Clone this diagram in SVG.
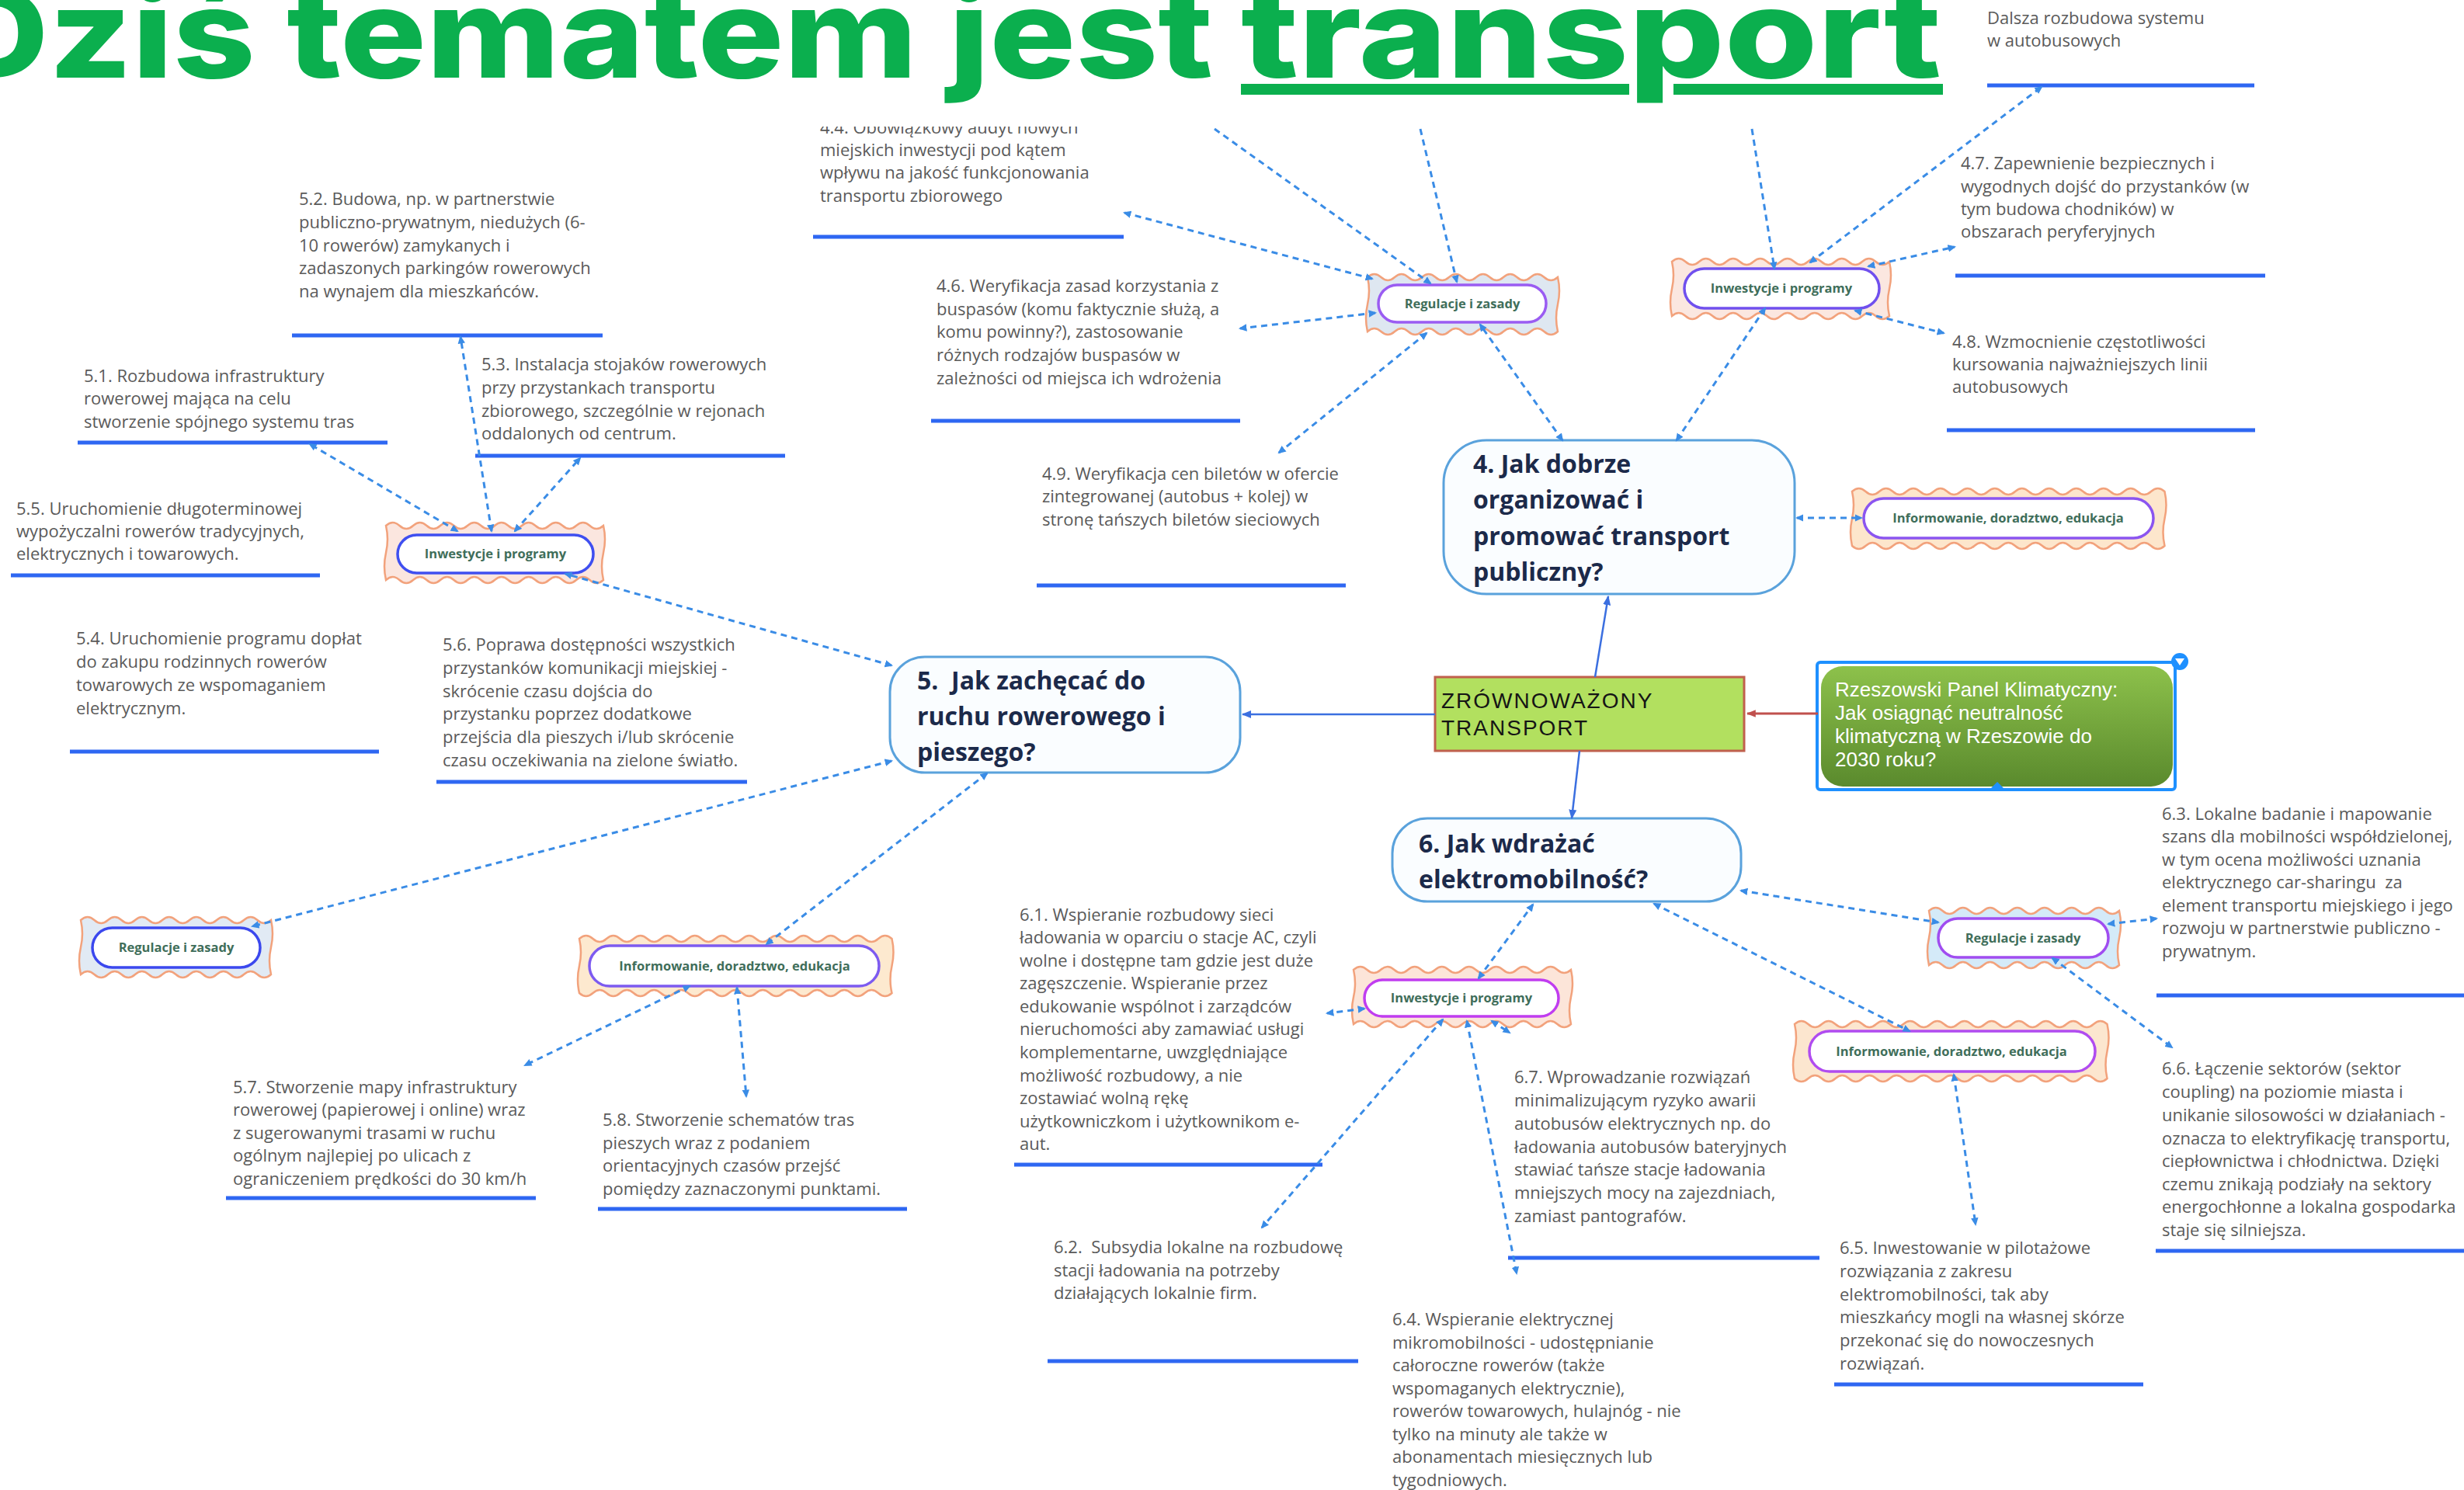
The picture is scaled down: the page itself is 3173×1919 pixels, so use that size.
<svg xmlns="http://www.w3.org/2000/svg" xmlns:xlink="http://www.w3.org/1999/xlink" width="3173" height="1919" viewBox="0 0 3173 1919">
<style>
.t{font-family:"Open Sans","Noto Sans",sans-serif;font-size:22px;fill:#5a5a5a}
.ul{stroke:#2E67F2;stroke-width:5}
.h{font-family:"Open Sans","Noto Sans",sans-serif;font-weight:700;font-size:32px;fill:#1C2A4A;white-space:pre}
.hb{fill:#FAFDFF;stroke:#5AA2DC;stroke-width:3}
.lbl{font-family:"Open Sans","Noto Sans",sans-serif;font-weight:700;font-size:16.5px;fill:#3F6E5A;text-anchor:middle}
.pill{fill:#fff;stroke-width:3.5}
.wav{stroke:#F2A27C;stroke-width:2.5}
.dl{stroke:#3A8CE6;stroke-width:3;stroke-dasharray:8 6;fill:none;marker-start:url(#ah);marker-end:url(#ah)}
.dle{stroke:#3A8CE6;stroke-width:3;stroke-dasharray:8 6;fill:none;marker-end:url(#ah)}
.ml{stroke:#3B6FE0;stroke-width:2.5;fill:none;marker-end:url(#as)}
.title{font-family:Inter,"Liberation Sans",sans-serif;font-weight:800;font-size:160px;fill:#0BAF4E}
</style>
<defs>
<marker id="ah" viewBox="0 0 10 10" refX="8" refY="5" markerWidth="3.5" markerHeight="3.5" orient="auto-start-reverse"><path d="M0,0.5 L10,5 L0,9.5 z" fill="#3A8CE6"/></marker>
<marker id="as" viewBox="0 0 10 10" refX="9" refY="5" markerWidth="5" markerHeight="5" orient="auto-start-reverse"><path d="M0,1 L10,5 L0,9 z" fill="#3B6FE0"/></marker>
<marker id="ar" viewBox="0 0 10 10" refX="9" refY="5" markerWidth="4" markerHeight="4" orient="auto-start-reverse"><path d="M0,1 L10,5 L0,9 z" fill="#C0504D"/></marker>
<linearGradient id="gg" x1="0" y1="0" x2="0" y2="1"><stop offset="0" stop-color="#8DC14B"/><stop offset="1" stop-color="#5A8A2D"/></linearGradient>
<path id="wReg" d="M0,5 q8.75,-8 17.5,0 t17.5,0 t17.5,0 t17.5,0 t17.5,0 t17.5,0 t17.5,0 t17.5,0 t17.5,0 t17.5,0 t17.5,0 t17.5,0 t17.5,0 t17.5,0 q4,17.5 0,35 t0,35 q-8.75,8 -17.5,0 t-17.5,0 t-17.5,0 t-17.5,0 t-17.5,0 t-17.5,0 t-17.5,0 t-17.5,0 t-17.5,0 t-17.5,0 t-17.5,0 t-17.5,0 t-17.5,0 t-17.5,0 q-4,-17.5 0,-35 t0,-35 z"/>
<path id="wInw" d="M0,5 q8.75,-8 17.5,0 t17.5,0 t17.5,0 t17.5,0 t17.5,0 t17.5,0 t17.5,0 t17.5,0 t17.5,0 t17.5,0 t17.5,0 t17.5,0 t17.5,0 t17.5,0 t17.5,0 t17.5,0 q4,17.5 0,35 t0,35 q-8.75,8 -17.5,0 t-17.5,0 t-17.5,0 t-17.5,0 t-17.5,0 t-17.5,0 t-17.5,0 t-17.5,0 t-17.5,0 t-17.5,0 t-17.5,0 t-17.5,0 t-17.5,0 t-17.5,0 t-17.5,0 t-17.5,0 q-4,-17.5 0,-35 t0,-35 z"/>
<path id="wInf" d="M0,5 q8.75,-8 17.5,0 t17.5,0 t17.5,0 t17.5,0 t17.5,0 t17.5,0 t17.5,0 t17.5,0 t17.5,0 t17.5,0 t17.5,0 t17.5,0 t17.5,0 t17.5,0 t17.5,0 t17.5,0 t17.5,0 t17.5,0 t17.5,0 t17.5,0 t17.5,0 t17.5,0 t17.5,0 q4,17.5 0,35 t0,35 q-8.75,8 -17.5,0 t-17.5,0 t-17.5,0 t-17.5,0 t-17.5,0 t-17.5,0 t-17.5,0 t-17.5,0 t-17.5,0 t-17.5,0 t-17.5,0 t-17.5,0 t-17.5,0 t-17.5,0 t-17.5,0 t-17.5,0 t-17.5,0 t-17.5,0 t-17.5,0 t-17.5,0 t-17.5,0 t-17.5,0 t-17.5,0 q-4,-17.5 0,-35 t0,-35 z"/>
</defs>
<rect x="0" y="0" width="3173" height="1919" fill="#fff"/>

<!-- main topic nodes -->
<g id="central">
<rect x="1848" y="872" width="398" height="95" fill="#B2E05F" stroke="#C0604D" stroke-width="3"/>
<text x="1856" y="912" font-family="'Liberation Sans',Arial,sans-serif" font-size="28" letter-spacing="2" fill="#151515">ZRÓWNOWAŻONY</text>
<text x="1856" y="947" font-family="'Liberation Sans',Arial,sans-serif" font-size="28" letter-spacing="2" fill="#151515">TRANSPORT</text>
</g>
<g id="root">
<rect x="2345" y="858" width="453" height="155" rx="28" fill="url(#gg)"/>
<rect x="2340" y="853" width="461" height="164" rx="4" fill="none" stroke="#1E90FF" stroke-width="4"/>
<text font-family="'Liberation Sans',Arial,sans-serif" font-size="26" fill="#fff"><tspan x="2363" y="897">Rzeszowski Panel Klimatyczny:</tspan><tspan x="2363" y="927">Jak osiągnąć neutralność</tspan><tspan x="2363" y="957">klimatyczną w Rzeszowie do</tspan><tspan x="2363" y="987">2030 roku?</tspan></text>
<circle cx="2807" cy="852" r="11" fill="#1E90FF"/>
<path d="M2801,848 L2813,848 L2807,857 z" fill="#fff"/>
<path d="M2564,1015 L2572,1007 L2580,1015 z" fill="#1E90FF"/>
</g>
<g id="q4">
<rect class="hb" x="1859" y="567" width="452" height="198" rx="55"/>
<text class="h"><tspan x="1897" y="609">4. Jak dobrze</tspan><tspan x="1897" y="655">organizować i</tspan><tspan x="1897" y="702">promować transport</tspan><tspan x="1897" y="748">publiczny?</tspan></text>
</g>
<g id="q5">
<rect class="hb" x="1146" y="846" width="451" height="149" rx="45"/>
<text class="h"><tspan x="1181" y="888">5.  Jak zachęcać do</tspan><tspan x="1181" y="934">ruchu rowerowego i</tspan><tspan x="1181" y="980">pieszego?</tspan></text>
</g>
<g id="q6">
<rect class="hb" x="1793" y="1054" width="449" height="107" rx="45"/>
<text class="h"><tspan x="1827" y="1098">6. Jak wdrażać</tspan><tspan x="1827" y="1144">elektromobilność?</tspan></text>
</g>

<!-- category nodes -->
<g id="reg4"><use href="#wReg" x="1761" y="352" class="wav" fill="#DEE7F1"/><rect class="pill" x="1775" y="367" width="216" height="48" rx="24" stroke="#9A5CF2"/><text class="lbl" x="1883" y="397">Regulacje i zasady</text></g>
<g id="inw4"><use href="#wInw" x="2153" y="332" class="wav" fill="#FBE7E0"/><rect class="pill" x="2169" y="346" width="251" height="51" rx="25.5" stroke="#7050EE"/><text class="lbl" x="2294" y="377">Inwestycje i programy</text></g>
<g id="inf4"><use href="#wInf" x="2385" y="628" class="wav" fill="#FDE6CC"/><rect class="pill" x="2400" y="642" width="373" height="51" rx="25.5" stroke="#8B55F0"/><text class="lbl" x="2586" y="673">Informowanie, doradztwo, edukacja</text></g>
<g id="inw5"><use href="#wInw" x="497" y="672" class="wav" fill="#FBE6DF"/><rect class="pill" x="512" y="689" width="252" height="49" rx="24.5" stroke="#3F4FF0"/><text class="lbl" x="638" y="719">Inwestycje i programy</text></g>
<g id="reg5"><use href="#wReg" x="104" y="1180" class="wav" fill="#E1EAF4"/><rect class="pill" x="119" y="1195" width="216" height="51" rx="25.5" stroke="#3B48EE"/><text class="lbl" x="227" y="1226">Regulacje i zasady</text></g>
<g id="inf5"><use href="#wInf" x="746" y="1204" class="wav" fill="#FDE9CF"/><rect class="pill" x="759" y="1218" width="373" height="52" rx="26" stroke="#7D5BF0"/><text class="lbl" x="946" y="1250">Informowanie, doradztwo, edukacja</text></g>
<g id="inw6"><use href="#wInw" x="1743" y="1244" class="wav" fill="#FCE5D9"/><rect class="pill" x="1757" y="1262" width="250" height="47" rx="23.5" stroke="#C03DF0"/><text class="lbl" x="1882" y="1291">Inwestycje i programy</text></g>
<g id="reg6"><use href="#wReg" x="2484" y="1168" class="wav" fill="#D4EAF8"/><rect class="pill" x="2496" y="1183" width="219" height="50" rx="25" stroke="#A04DF0"/><text class="lbl" x="2605" y="1214">Regulacje i zasady</text></g>
<g id="inf6"><use href="#wInf" x="2311" y="1314" class="wav" fill="#FCE6CF"/><rect class="pill" x="2330" y="1328" width="368" height="52" rx="26" stroke="#B04CF0"/><text class="lbl" x="2513" y="1360">Informowanie, doradztwo, edukacja</text></g>

<!-- text leaf nodes -->
<g id="n44"><text class="t"><tspan x="1056" y="172">4.4. Obowiązkowy audyt nowych</tspan><tspan x="1056" y="201">miejskich inwestycji pod kątem</tspan><tspan x="1056" y="230">wpływu na jakość funkcjonowania</tspan><tspan x="1056" y="260">transportu zbiorowego</tspan></text><line class="ul" x1="1047" y1="305" x2="1447" y2="305"/></g>
<g id="n45"><text class="t"><tspan x="2559" y="31">Dalsza rozbudowa systemu</tspan><tspan x="2559" y="60">w autobusowych</tspan></text><line class="ul" x1="2559" y1="110" x2="2903" y2="110"/></g>
<g id="n47"><text class="t"><tspan x="2525" y="218">4.7. Zapewnienie bezpiecznych i</tspan><tspan x="2525" y="248">wygodnych dojść do przystanków (w</tspan><tspan x="2525" y="277">tym budowa chodników) w</tspan><tspan x="2525" y="306">obszarach peryferyjnych</tspan></text><line class="ul" x1="2518" y1="355" x2="2917" y2="355"/></g>
<g id="n48"><text class="t"><tspan x="2514" y="448">4.8. Wzmocnienie częstotliwości</tspan><tspan x="2514" y="477">kursowania najważniejszych linii</tspan><tspan x="2514" y="506">autobusowych</tspan></text><line class="ul" x1="2507" y1="554" x2="2904" y2="554"/></g>
<g id="n46"><text class="t"><tspan x="1206" y="376">4.6. Weryfikacja zasad korzystania z</tspan><tspan x="1206" y="406">buspasów (komu faktycznie służą, a</tspan><tspan x="1206" y="435">komu powinny?), zastosowanie</tspan><tspan x="1206" y="465">różnych rodzajów buspasów w</tspan><tspan x="1206" y="495">zależności od miejsca ich wdrożenia</tspan></text><line class="ul" x1="1199" y1="542" x2="1597" y2="542"/></g>
<g id="n49"><text class="t"><tspan x="1342" y="618">4.9. Weryfikacja cen biletów w ofercie</tspan><tspan x="1342" y="647">zintegrowanej (autobus + kolej) w</tspan><tspan x="1342" y="677">stronę tańszych biletów sieciowych</tspan></text><line class="ul" x1="1335" y1="754" x2="1733" y2="754"/></g>
<g id="n52"><text class="t"><tspan x="385" y="264">5.2. Budowa, np. w partnerstwie</tspan><tspan x="385" y="294">publiczno-prywatnym, niedużych (6-</tspan><tspan x="385" y="324">10 rowerów) zamykanych i</tspan><tspan x="385" y="353">zadaszonych parkingów rowerowych</tspan><tspan x="385" y="383">na wynajem dla mieszkańców.</tspan></text><line class="ul" x1="376" y1="432" x2="776" y2="432"/></g>
<g id="n51"><text class="t"><tspan x="108" y="492">5.1. Rozbudowa infrastruktury</tspan><tspan x="108" y="521">rowerowej mająca na celu</tspan><tspan x="108" y="551">stworzenie spójnego systemu tras</tspan></text><line class="ul" x1="100" y1="570" x2="499" y2="570"/></g>
<g id="n53"><text class="t"><tspan x="620" y="477">5.3. Instalacja stojaków rowerowych</tspan><tspan x="620" y="507">przy przystankach transportu</tspan><tspan x="620" y="537">zbiorowego, szczególnie w rejonach</tspan><tspan x="620" y="566">oddalonych od centrum.</tspan></text><line class="ul" x1="612" y1="587" x2="1011" y2="587"/></g>
<g id="n55"><text class="t"><tspan x="21" y="663">5.5. Uruchomienie długoterminowej</tspan><tspan x="21" y="692">wypożyczalni rowerów tradycyjnych,</tspan><tspan x="21" y="721">elektrycznych i towarowych.</tspan></text><line class="ul" x1="14" y1="741" x2="412" y2="741"/></g>
<g id="n54"><text class="t"><tspan x="98" y="830">5.4. Uruchomienie programu dopłat</tspan><tspan x="98" y="860">do zakupu rodzinnych rowerów</tspan><tspan x="98" y="890">towarowych ze wspomaganiem</tspan><tspan x="98" y="920">elektrycznym.</tspan></text><line class="ul" x1="90" y1="968" x2="488" y2="968"/></g>
<g id="n56"><text class="t"><tspan x="570" y="838">5.6. Poprawa dostępności wszystkich</tspan><tspan x="570" y="868">przystanków komunikacji miejskiej -</tspan><tspan x="570" y="898">skrócenie czasu dojścia do</tspan><tspan x="570" y="927">przystanku poprzez dodatkowe</tspan><tspan x="570" y="957">przejścia dla pieszych i/lub skrócenie</tspan><tspan x="570" y="987">czasu oczekiwania na zielone światło.</tspan></text><line class="ul" x1="562" y1="1007" x2="962" y2="1007"/></g>
<g id="n57"><text class="t"><tspan x="300" y="1408">5.7. Stworzenie mapy infrastruktury</tspan><tspan x="300" y="1437">rowerowej (papierowej i online) wraz</tspan><tspan x="300" y="1467">z sugerowanymi trasami w ruchu</tspan><tspan x="300" y="1496">ogólnym najlepiej po ulicach z</tspan><tspan x="300" y="1526">ograniczeniem prędkości do 30 km/h</tspan></text><line class="ul" x1="291" y1="1543" x2="690" y2="1543"/></g>
<g id="n58"><text class="t"><tspan x="776" y="1450">5.8. Stworzenie schematów tras</tspan><tspan x="776" y="1480">pieszych wraz z podaniem</tspan><tspan x="776" y="1509">orientacyjnych czasów przejść</tspan><tspan x="776" y="1539">pomiędzy zaznaczonymi punktami.</tspan></text><line class="ul" x1="770" y1="1557" x2="1168" y2="1557"/></g>
<g id="n61"><text class="t"><tspan x="1313" y="1186">6.1. Wspieranie rozbudowy sieci</tspan><tspan x="1313" y="1215">ładowania w oparciu o stacje AC, czyli</tspan><tspan x="1313" y="1245">wolne i dostępne tam gdzie jest duże</tspan><tspan x="1313" y="1274">zagęszczenie. Wspieranie przez</tspan><tspan x="1313" y="1304">edukowanie wspólnot i zarządców</tspan><tspan x="1313" y="1333">nieruchomości aby zamawiać usługi</tspan><tspan x="1313" y="1363">komplementarne, uwzględniające</tspan><tspan x="1313" y="1393">możliwość rozbudowy, a nie</tspan><tspan x="1313" y="1422">zostawiać wolną rękę</tspan><tspan x="1313" y="1452">użytkowniczkom i użytkownikom e-</tspan><tspan x="1313" y="1481">aut.</tspan></text><line class="ul" x1="1306" y1="1500" x2="1703" y2="1500"/></g>
<g id="n62"><text class="t" style="white-space:pre"><tspan x="1357" y="1614">6.2.  Subsydia lokalne na rozbudowę</tspan><tspan x="1357" y="1644">stacji ładowania na potrzeby</tspan><tspan x="1357" y="1673">działających lokalnie firm.</tspan></text><line class="ul" x1="1349" y1="1753" x2="1749" y2="1753"/></g>
<g id="n67"><text class="t"><tspan x="1950" y="1395">6.7. Wprowadzanie rozwiązań</tspan><tspan x="1950" y="1425">minimalizującym ryzyko awarii</tspan><tspan x="1950" y="1455">autobusów elektrycznych np. do</tspan><tspan x="1950" y="1485">ładowania autobusów bateryjnych</tspan><tspan x="1950" y="1514">stawiać tańsze stacje ładowania</tspan><tspan x="1950" y="1544">mniejszych mocy na zajezdniach,</tspan><tspan x="1950" y="1574">zamiast pantografów.</tspan></text><line class="ul" x1="1942" y1="1620" x2="2343" y2="1620"/></g>
<g id="n64"><text class="t"><tspan x="1793" y="1707">6.4. Wspieranie elektrycznej</tspan><tspan x="1793" y="1737">mikromobilności - udostępnianie</tspan><tspan x="1793" y="1766">całoroczne rowerów (także</tspan><tspan x="1793" y="1796">wspomaganych elektrycznie),</tspan><tspan x="1793" y="1825">rowerów towarowych, hulajnóg - nie</tspan><tspan x="1793" y="1855">tylko na minuty ale także w</tspan><tspan x="1793" y="1884">abonamentach miesięcznych lub</tspan><tspan x="1793" y="1914">tygodniowych.</tspan></text></g>
<g id="n65"><text class="t"><tspan x="2369" y="1615">6.5. Inwestowanie w pilotażowe</tspan><tspan x="2369" y="1645">rozwiązania z zakresu</tspan><tspan x="2369" y="1675">elektromobilności, tak aby</tspan><tspan x="2369" y="1704">mieszkańcy mogli na własnej skórze</tspan><tspan x="2369" y="1734">przekonać się do nowoczesnych</tspan><tspan x="2369" y="1764">rozwiązań.</tspan></text><line class="ul" x1="2362" y1="1783" x2="2760" y2="1783"/></g>
<g id="n63"><text class="t" style="white-space:pre"><tspan x="2784" y="1056">6.3. Lokalne badanie i mapowanie</tspan><tspan x="2784" y="1085">szans dla mobilności współdzielonej,</tspan><tspan x="2784" y="1115">w tym ocena możliwości uznania</tspan><tspan x="2784" y="1144">elektrycznego car-sharingu  za</tspan><tspan x="2784" y="1174">element transportu miejskiego i jego</tspan><tspan x="2784" y="1203">rozwoju w partnerstwie publiczno -</tspan><tspan x="2784" y="1233">prywatnym.</tspan></text><line class="ul" x1="2777" y1="1282" x2="3173" y2="1282"/></g>
<g id="n66"><text class="t"><tspan x="2784" y="1384">6.6. Łączenie sektorów (sektor</tspan><tspan x="2784" y="1414">coupling) na poziomie miasta i</tspan><tspan x="2784" y="1444">unikanie silosowości w działaniach -</tspan><tspan x="2784" y="1474">oznacza to elektryfikację transportu,</tspan><tspan x="2784" y="1503">ciepłownictwa i chłodnictwa. Dzięki</tspan><tspan x="2784" y="1533">czemu znikają podziały na sektory</tspan><tspan x="2784" y="1562">energochłonne a lokalna gospodarka</tspan><tspan x="2784" y="1592">staje się silniejsza.</tspan></text><line class="ul" x1="2776" y1="1611" x2="3173" y2="1611"/></g>

<!-- connectors -->
<g id="connectors">
<line class="ml" x1="2054" y1="872" x2="2071" y2="768"/>
<line class="ml" x1="1848" y1="920" x2="1600" y2="920" stroke="#5A8CF0" stroke-width="3.5"/>
<line class="ml" x1="2034" y1="967" x2="2024" y2="1054"/>
<line x1="2341" y1="919" x2="2250" y2="919" stroke="#C0504D" stroke-width="3" marker-end="url(#ar)"/>
<line class="dle" x1="1564" y1="166" x2="1842" y2="365"/>
<line class="dle" x1="1829" y1="166" x2="1876" y2="363"/>
<line class="dle" x1="2256" y1="166" x2="2285" y2="346"/>
<line class="dl" x1="1767" y1="359" x2="1448" y2="274"/>
<line class="dl" x1="1771" y1="403" x2="1597" y2="423"/>
<line class="dl" x1="1837" y1="429" x2="1647" y2="583"/>
<line class="dl" x1="2012" y1="567" x2="1906" y2="418"/>
<line class="dl" x1="2159" y1="567" x2="2273" y2="397"/>
<line class="dl" x1="2331" y1="338" x2="2629" y2="112"/>
<line class="dl" x1="2406" y1="343" x2="2517" y2="318"/>
<line class="dl" x1="2389" y1="400" x2="2503" y2="429"/>
<line class="dl" x1="2314" y1="667" x2="2397" y2="667"/>
<line class="dl" x1="1148" y1="857" x2="728" y2="739"/>
<line class="dl" x1="1148" y1="980" x2="325" y2="1193"/>
<line class="dl" x1="1271" y1="996" x2="987" y2="1216"/>
<line class="dl" x1="589" y1="684" x2="399" y2="572"/>
<line class="dl" x1="633" y1="684" x2="593" y2="434"/>
<line class="dl" x1="663" y1="684" x2="747" y2="590"/>
<line class="dl" x1="888" y1="1270" x2="676" y2="1372"/>
<line class="dl" x1="949" y1="1272" x2="961" y2="1412"/>
<line class="dl" x1="1904" y1="1260" x2="1974" y2="1165"/>
<line class="dl" x1="1757" y1="1299" x2="1709" y2="1305"/>
<line class="dl" x1="1858" y1="1313" x2="1625" y2="1581"/>
<line class="dl" x1="1889" y1="1315" x2="1953" y2="1640"/>
<line class="dl" x1="1921" y1="1315" x2="1944" y2="1330"/>
<line class="dl" x1="2242" y1="1147" x2="2496" y2="1188"/>
<line class="dl" x1="2130" y1="1164" x2="2459" y2="1328"/>
<line class="dl" x1="2715" y1="1190" x2="2777" y2="1183"/>
<line class="dl" x1="2643" y1="1234" x2="2797" y2="1349"/>
<line class="dl" x1="2516" y1="1384" x2="2544" y2="1577"/>
</g>

<!-- title band -->
<g id="title">
<rect x="0" y="0" width="2556" height="163" fill="#fff"/>
<text class="title" x="-71" y="100" textLength="1633" lengthAdjust="spacingAndGlyphs">Dziś tematem jest</text>
<text class="title" x="1598" y="100" textLength="902" lengthAdjust="spacingAndGlyphs">transport</text>
<rect x="1598" y="108" width="500" height="14" fill="#0BAF4E"/>
<rect x="2155" y="108" width="347" height="14" fill="#0BAF4E"/>
</g>
</svg>
